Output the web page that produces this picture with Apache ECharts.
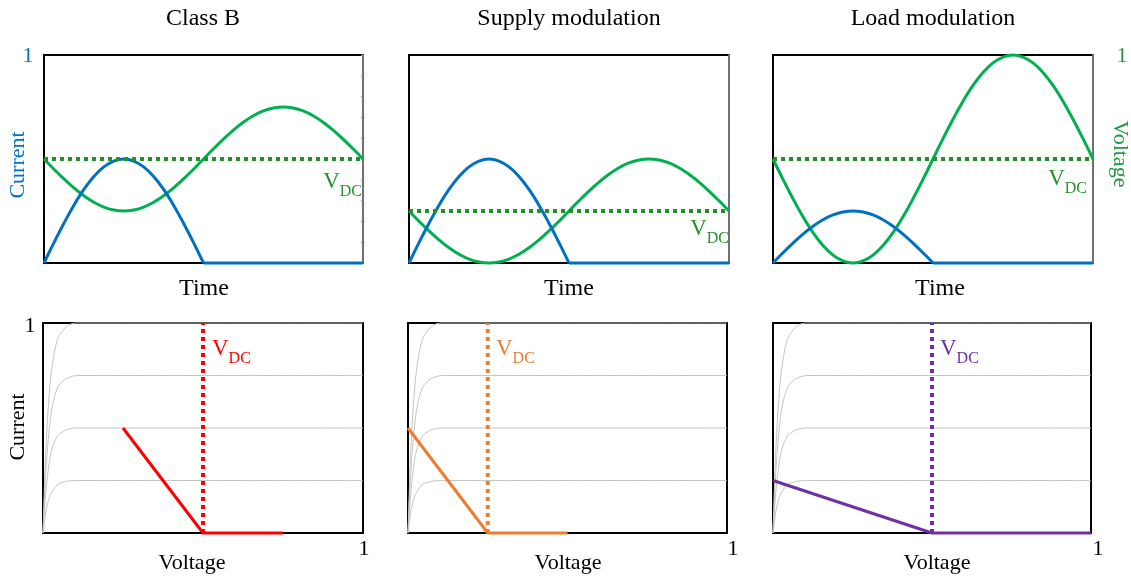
<!DOCTYPE html>
<html>
<head>
<meta charset="utf-8">
<script src="https://cdn.jsdelivr.net/npm/echarts@6/dist/echarts.min.js"></script>
<style>
  html, body { margin: 0; padding: 0; background: #fff; }
  #chart { width: 1131px; height: 578px; }
</style>
</head>
<body>
<div id="chart"></div>
<script>
// time samples for the top row (one RF period, 0..1)
var tTime = [0, 0.03125, 0.0625, 0.09375, 0.125, 0.15625, 0.1875, 0.21875, 0.25, 0.28125, 0.3125, 0.34375, 0.375, 0.40625, 0.4375, 0.46875, 0.5,
  0.53125, 0.5625, 0.59375, 0.625, 0.65625, 0.6875, 0.71875, 0.75, 0.78125, 0.8125, 0.84375, 0.875, 0.90625, 0.9375, 0.96875, 1];
var tHalf = tTime.slice(0, 17);
var tOff = [0.5, 1];
var iOff = [0, 0];

var classBVoltage = [0.5, 0.451, 0.404, 0.361, 0.323, 0.292, 0.269, 0.255, 0.25, 0.255, 0.269, 0.292, 0.323, 0.361, 0.404, 0.451, 0.5,
  0.549, 0.596, 0.639, 0.677, 0.708, 0.731, 0.745, 0.75, 0.745, 0.731, 0.708, 0.677, 0.639, 0.596, 0.549, 0.5];
var classBCurrent = [0, 0.098, 0.191, 0.278, 0.354, 0.416, 0.462, 0.49, 0.5, 0.49, 0.462, 0.416, 0.354, 0.278, 0.191, 0.098, 0];
var supplyVoltage = [0.25, 0.201, 0.154, 0.111, 0.073, 0.042, 0.019, 0.005, 0, 0.005, 0.019, 0.042, 0.073, 0.111, 0.154, 0.201, 0.25,
  0.299, 0.346, 0.389, 0.427, 0.458, 0.481, 0.495, 0.5, 0.495, 0.481, 0.458, 0.427, 0.389, 0.346, 0.299, 0.25];
var supplyCurrent = [0, 0.098, 0.191, 0.278, 0.354, 0.416, 0.462, 0.49, 0.5, 0.49, 0.462, 0.416, 0.354, 0.278, 0.191, 0.098, 0];
var loadVoltage = [0.5, 0.402, 0.309, 0.222, 0.146, 0.084, 0.038, 0.01, 0, 0.01, 0.038, 0.084, 0.146, 0.222, 0.309, 0.402, 0.5,
  0.598, 0.691, 0.778, 0.854, 0.916, 0.962, 0.99, 1, 0.99, 0.962, 0.916, 0.854, 0.778, 0.691, 0.598, 0.5];
var loadCurrent = [0, 0.049, 0.096, 0.139, 0.177, 0.208, 0.231, 0.245, 0.25, 0.245, 0.231, 0.208, 0.177, 0.139, 0.096, 0.049, 0];
var vdcLevels = [0.5, 0.25, 0.5];

// device I-V curves for the bottom row
var kneeV = [0, 0.005, 0.01, 0.02, 0.03, 0.045, 0.06, 0.08, 0.11, 1];
var curve100 = [0, 0.24, 0.43, 0.67, 0.81, 0.92, 0.96, 0.99, 1, 1];
var curve75 = [0, 0.18, 0.32, 0.5, 0.61, 0.69, 0.72, 0.74, 0.75, 0.75];
var curve50 = [0, 0.12, 0.21, 0.34, 0.41, 0.46, 0.48, 0.495, 0.5, 0.5];
var curve25 = [0, 0.06, 0.11, 0.17, 0.2, 0.23, 0.24, 0.248, 0.25, 0.25];

// load lines
var classBLoadV = [0.25, 0.5, 0.75];
var classBLoadI = [0.5, 0, 0];
var supplyLoadV = [0, 0.25, 0.5];
var supplyLoadI = [0.5, 0, 0];
var loadLoadV = [0, 0.5, 1];
var loadLoadI = [0.25, 0, 0];
var bottomVdc = [0.5, 0.25, 0.5];

var titles = ['Class B', 'Supply modulation', 'Load modulation'];

var FONT = "'Liberation Serif', 'Times New Roman', serif";
var BLUE = '#0070C0', GREEN = '#00B050', DKGREEN = '#23902a', VGREEN = '#1f9a3a';
var GRAY = '#c4c4c4';

var chart = echarts.init(document.getElementById('chart'));

function pairs(xs, ys) {
  return xs.map(function (x, i) { return [x, ys[i]]; });
}

var grids = [
  { left: 44, top: 55, width: 319, height: 208 },
  { left: 409, top: 55, width: 320, height: 208 },
  { left: 773, top: 55, width: 320, height: 208 },
  { left: 43, top: 323, width: 320, height: 210 },
  { left: 408, top: 323, width: 319, height: 210 },
  { left: 773, top: 323, width: 318, height: 210 }
].map(function (g) {
  g.show = true;
  g.borderColor = '#000';
  g.borderWidth = 2;
  g.containLabel = false;
  return g;
});

function hiddenAxis(gi) {
  return {
    type: 'value', gridIndex: gi, min: 0, max: 1,
    axisLine: { show: false }, axisTick: { show: false },
    axisLabel: { show: false }, splitLine: { show: false }
  };
}

var xAxes = [], yAxes = [];
for (var g = 0; g < 6; g++) {
  xAxes.push(hiddenAxis(g));
  yAxes.push(hiddenAxis(g));
}
// grey right edge of the top panels
for (var g2 = 0; g2 < 3; g2++) {
  yAxes.push({
    type: 'value', gridIndex: g2, position: 'right', min: 0, max: 1, interval: 0.1,
    z: 1,
    axisLine: { show: true, lineStyle: { color: '#707070', width: 2 } },
    axisTick: { show: g2 === 0, inside: true, length: 2, lineStyle: { color: '#909090' } },
    axisLabel: { show: false }, splitLine: { show: false }
  });
}

function line(gi, data, color, width, smooth, dashed) {
  return {
    type: 'line', xAxisIndex: gi, yAxisIndex: gi, data: data,
    symbol: 'none', smooth: smooth || false, clip: false, silent: true,
    lineStyle: { color: color, width: width, type: dashed ? [4, 4] : 'solid', cap: 'butt' },
    z: dashed ? 4 : 3
  };
}

var series = [];
var voltages = [classBVoltage, supplyVoltage, loadVoltage];
var currents = [classBCurrent, supplyCurrent, loadCurrent];
for (var p = 0; p < 3; p++) {
  series.push(line(p, pairs(tTime, voltages[p]), GREEN, 3, 0.4));
  series.push(line(p, pairs(tHalf, currents[p]), BLUE, 3, 0.4));
  series.push(line(p, pairs(tOff, iOff), BLUE, 3));
  series.push(line(p, [[0, vdcLevels[p]], [1, vdcLevels[p]]], DKGREEN, 4, false, true));
}

var loadColors = ['#FF0000', '#ED7D31', '#7030A0'];
var loadV = [classBLoadV, supplyLoadV, loadLoadV];
var loadI = [classBLoadI, supplyLoadI, loadLoadI];
[curve100, curve75, curve50, curve25].forEach(function (c) {
  for (var b = 3; b < 6; b++) {
    var s = line(b, pairs(kneeV, c), GRAY, 1, 0.4);
    s.z = 2;
    series.push(s);
  }
});
for (var q = 0; q < 3; q++) {
  series.push(line(q + 3, pairs(loadV[q], loadI[q]), loadColors[q], 3));
  series.push(line(q + 3, [[bottomVdc[q], 0], [bottomVdc[q], 1]], loadColors[q], 4, false, true));
}

function txt(x, y, text, opts) {
  opts = opts || {};
  return {
    type: 'text', x: x, y: y, rotation: opts.rotation || 0, z: 10, silent: true,
    style: {
      text: text, fontFamily: FONT, fontSize: opts.size || 22,
      fill: opts.color || '#000',
      align: opts.align || 'center', verticalAlign: opts.valign || 'middle'
    }
  };
}

function vdc(x, y, color, align) {
  return {
    type: 'text', x: x, y: y, z: 10, silent: true,
    style: {
      text: '{v|V}{s|DC}', fontFamily: FONT, fill: color,
      align: align, verticalAlign: 'top',
      rich: {
        v: { fontSize: 23, fontFamily: FONT, fill: color, verticalAlign: 'bottom', padding: [0, 0, 7, 0] },
        s: { fontSize: 16, fontFamily: FONT, fill: color, verticalAlign: 'bottom' }
      }
    }
  };
}

var graphics = [
  txt(203, 19, titles[0], { size: 24 }), txt(569, 19, titles[1], { size: 24 }), txt(933, 19, titles[2], { size: 24 }),
  txt(204, 289, 'Time', { size: 24 }), txt(569, 289, 'Time', { size: 24 }), txt(940, 289, 'Time', { size: 24 }),
  txt(192, 563, 'Voltage'), txt(568, 563, 'Voltage'), txt(937, 563, 'Voltage'),
  txt(28, 56, '1', { color: BLUE }),
  txt(1122, 56, '1', { color: VGREEN }),
  txt(30, 326, '1'),
  txt(364, 549, '1'), txt(733, 549, '1'), txt(1098, 549, '1'),
  txt(18, 165, 'Current', { color: BLUE, rotation: Math.PI / 2 }),
  txt(18, 427, 'Current', { rotation: Math.PI / 2 }),
  txt(1120, 154, 'Voltage', { color: VGREEN, rotation: -Math.PI / 2 }),
  vdc(362, 170, DKGREEN, 'right'),
  vdc(729, 217, DKGREEN, 'right'),
  vdc(1087, 167, DKGREEN, 'right'),
  vdc(212, 337, '#FF0000', 'left'),
  vdc(496, 337, '#ED7D31', 'left'),
  vdc(940, 337, '#7030A0', 'left')
];

chart.setOption({
  animation: false,
  backgroundColor: '#fff',
  grid: grids,
  xAxis: xAxes,
  yAxis: yAxes,
  series: series,
  graphic: graphics
});
</script>
</body>
</html>
